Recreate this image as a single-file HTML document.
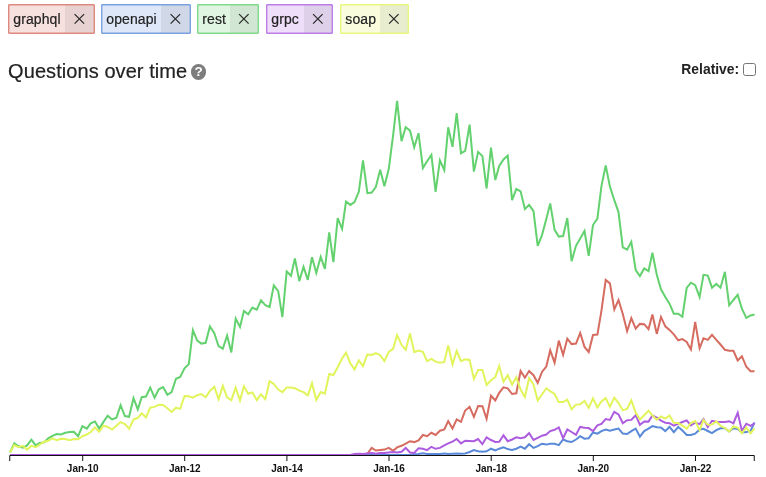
<!DOCTYPE html>
<html lang="en">
<head>
<meta charset="utf-8">
<title>Questions over time</title>
<style>
html,body{margin:0;padding:0;background:#fff;}
body{width:766px;height:477px;position:relative;overflow:hidden;font-family:"Liberation Sans",Arial,Helvetica,sans-serif;color:#222;}
.tag{position:absolute;top:4px;height:28px;border:1px solid;border-radius:1px;box-sizing:content-box;font-size:14px;line-height:28px;}
.tag .lbl{position:absolute;left:4.3px;top:0.3px;letter-spacing:0.1px;color:#222;white-space:nowrap;-webkit-text-stroke:0.2px #222;}
.tag .x{position:absolute;top:0;bottom:0;right:0;display:block;}
.tag .x svg{position:absolute;left:0;top:0;}
.tag::after{content:"";position:absolute;left:0;top:0;right:0;bottom:0;box-shadow:inset 0 0 0 0.4px currentColor;pointer-events:none;}
h2{position:absolute;left:8.1px;letter-spacing:0.07px;-webkit-text-stroke:0.2px #222;top:59px;margin:0;font-size:20px;font-weight:normal;line-height:24px;color:#222;white-space:nowrap;}
.help{position:absolute;left:191px;top:64.4px;width:15.4px;height:15.4px;border-radius:50%;background:#7d7d7d;color:#fff;font-size:13.5px;font-weight:bold;line-height:15.8px;text-align:center;}
.rel{position:absolute;left:681.3px;top:60.6px;font-size:13.9px;font-weight:bold;line-height:17px;color:#222;white-space:nowrap;}
.cb{-webkit-appearance:none;appearance:none;margin:0;padding:0;box-sizing:content-box;display:block;position:absolute;left:742.7px;top:62.6px;width:11.1px;height:11px;border:1px solid #767676;border-radius:2.5px;background:#fff;}
svg.chart{position:absolute;left:0;top:0;}
.ticks text{font-family:"Liberation Sans",Arial,Helvetica,sans-serif;font-size:10px;font-weight:bold;fill:#111;}
</style>
</head>
<body>
<div class="tag" style="left:8px;width:85px;border-color:#de897f;background:#f7e1df;color:#de897f"><span class="lbl">graphql</span><span class="x" style="left:56px;background:#e7d2d1"><svg width="29" height="28" viewBox="0 0 29 28"><path d="M9.60,9.10L19.10,18.60M19.10,9.10L9.60,18.60" stroke="#2b2b2b" stroke-width="1.3" fill="none"/></svg></span></div>
<div class="tag" style="left:101px;width:88px;border-color:#7aa1e0;background:#dee7f7;color:#7aa1e0"><span class="lbl">openapi</span><span class="x" style="left:59px;background:#d0d8e7"><svg width="29" height="28" viewBox="0 0 29 28"><path d="M9.60,9.10L19.10,18.60M19.10,9.10L9.60,18.60" stroke="#2b2b2b" stroke-width="1.3" fill="none"/></svg></span></div>
<div class="tag" style="left:197px;width:60px;border-color:#81da8b;background:#e0f6e2;color:#81da8b"><span class="lbl">rest</span><span class="x" style="left:32px;background:#d1e6d3"><svg width="28" height="28" viewBox="0 0 28 28"><path d="M9.10,9.10L18.60,18.60M18.60,9.10L9.10,18.60" stroke="#2b2b2b" stroke-width="1.3" fill="none"/></svg></span></div>
<div class="tag" style="left:266px;width:65px;border-color:#bd7de6;background:#efdef9;color:#bd7de6"><span class="lbl">grpc</span><span class="x" style="left:37px;background:#dfd0e9"><svg width="28" height="28" viewBox="0 0 28 28"><path d="M9.10,9.10L18.60,18.60M18.60,9.10L9.10,18.60" stroke="#2b2b2b" stroke-width="1.3" fill="none"/></svg></span></div>
<div class="tag" style="left:340px;width:67px;border-color:#e8f67d;background:#f9fdde;color:#e8f67d"><span class="lbl">soap</span><span class="x" style="left:39px;background:#e9edd0"><svg width="28" height="28" viewBox="0 0 28 28"><path d="M9.10,9.10L18.60,18.60M18.60,9.10L9.10,18.60" stroke="#2b2b2b" stroke-width="1.3" fill="none"/></svg></span></div>
<h2>Questions over time</h2>
<div class="help">?</div>
<label class="rel" for="rel">Relative:</label>
<input type="checkbox" id="rel" class="cb">
<svg class="chart" width="766" height="477" viewBox="0 0 766 477">
<g fill="none" stroke-width="2" stroke-linejoin="miter" stroke-linecap="butt">
<path stroke="#d66b5f" d="M10.0,455.0L14.3,455.0L18.5,455.0L22.9,455.0L27.1,455.0L31.4,455.0L35.7,455.0L39.6,455.0L44.0,455.0L48.2,455.0L52.5,455.0L56.7,455.0L61.0,455.0L65.4,455.0L69.6,455.0L73.9,455.0L78.1,455.0L82.4,455.0L86.8,455.0L90.7,455.0L95.0,455.0L99.2,455.0L103.5,455.0L107.7,455.0L112.1,455.0L116.4,455.0L120.6,455.0L124.9,455.0L129.1,455.0L133.5,455.0L137.8,455.0L141.7,455.0L146.0,455.0L150.2,455.0L154.6,455.0L158.8,455.0L163.1,455.0L167.4,455.0L171.6,455.0L176.0,455.0L180.2,455.0L184.5,455.0L188.8,455.0L192.9,455.0L197.2,455.0L201.4,455.0L205.7,455.0L209.9,455.0L214.3,455.0L218.6,455.0L222.8,455.0L227.1,455.0L231.3,455.0L235.7,455.0L240.0,455.0L243.9,455.0L248.2,455.0L252.4,455.0L256.8,455.0L261.0,455.0L265.3,455.0L269.6,455.0L273.8,455.0L278.2,455.0L282.4,455.0L286.7,455.0L291.0,455.0L294.9,455.0L299.3,455.0L303.5,455.0L307.8,455.0L312.0,455.0L316.3,455.0L320.7,455.0L324.9,455.0L329.2,455.0L333.4,455.0L337.7,455.0L342.1,455.0L346.0,455.0L350.3,455.0L354.5,455.0L358.8,455.0L363.0,454.0L367.4,453.8L371.7,447.9L375.9,450.5L380.2,450.0L384.4,449.6L388.8,447.9L393.1,450.8L397.1,447.4L401.5,445.8L405.7,443.7L410.0,441.2L414.2,442.1L418.5,440.4L422.9,435.0L427.1,436.2L431.4,432.8L435.6,435.0L439.9,430.7L444.3,429.5L448.2,421.1L452.5,428.6L456.7,419.4L461.0,421.9L465.2,410.5L469.6,406.8L473.9,416.9L478.1,406.0L482.4,406.3L486.6,418.8L491.0,395.7L495.3,400.4L499.2,392.8L503.5,387.3L507.7,388.3L512.1,394.0L516.3,393.3L520.6,371.0L524.9,377.7L529.1,371.0L533.5,375.2L537.7,382.8L542.0,371.9L546.3,366.5L550.2,350.3L554.6,362.6L558.8,340.6L563.1,354.9L567.3,338.7L571.6,344.1L576.0,343.5L580.2,332.9L584.5,346.9L588.7,352.0L593.0,334.9L597.4,334.6L601.4,311.1L605.7,280.0L609.9,283.4L614.3,309.4L618.5,300.0L622.8,313.9L627.1,331.2L631.3,318.1L635.7,328.7L639.9,323.9L644.2,324.2L648.5,329.2L652.4,314.5L656.8,333.9L661.0,316.9L665.3,326.3L669.5,329.9L673.8,334.4L678.2,340.3L682.4,339.1L686.7,341.9L690.9,349.5L695.2,321.8L699.6,348.3L703.5,338.2L707.8,339.9L712.0,334.9L716.3,339.8L720.5,344.5L724.9,349.8L729.2,350.8L733.4,350.8L737.7,360.4L741.9,356.2L746.3,366.8L750.6,371.3L754.5,371.3"/>
<path stroke="#5989d8" d="M10.0,455.0L14.3,455.0L18.5,455.0L22.9,455.0L27.1,455.0L31.4,455.0L35.7,455.0L39.6,455.0L44.0,455.0L48.2,455.0L52.5,455.0L56.7,455.0L61.0,455.0L65.4,455.0L69.6,455.0L73.9,455.0L78.1,455.0L82.4,455.0L86.8,455.0L90.7,455.0L95.0,455.0L99.2,455.0L103.5,455.0L107.7,455.0L112.1,455.0L116.4,455.0L120.6,455.0L124.9,455.0L129.1,455.0L133.5,455.0L137.8,455.0L141.7,455.0L146.0,455.0L150.2,455.0L154.6,455.0L158.8,455.0L163.1,455.0L167.4,455.0L171.6,455.0L176.0,455.0L180.2,455.0L184.5,455.0L188.8,455.0L192.9,455.0L197.2,455.0L201.4,455.0L205.7,455.0L209.9,455.0L214.3,455.0L218.6,455.0L222.8,455.0L227.1,455.0L231.3,455.0L235.7,455.0L240.0,455.0L243.9,455.0L248.2,455.0L252.4,455.0L256.8,455.0L261.0,455.0L265.3,455.0L269.6,455.0L273.8,455.0L278.2,455.0L282.4,455.0L286.7,455.0L291.0,455.0L294.9,455.0L299.3,455.0L303.5,455.0L307.8,455.0L312.0,455.0L316.3,455.0L320.7,455.0L324.9,455.0L329.2,455.0L333.4,455.0L337.7,455.0L342.1,455.0L346.0,455.0L350.3,455.0L354.5,455.0L358.8,455.0L363.0,455.0L367.4,455.0L371.7,455.0L375.9,455.0L380.2,455.0L384.4,455.0L388.8,455.0L393.1,455.0L397.1,455.0L401.5,455.0L405.7,455.0L410.0,455.0L414.2,454.2L418.5,454.0L422.9,453.3L427.1,454.0L431.4,454.0L435.6,454.0L439.9,453.9L444.3,453.5L448.2,454.0L452.5,453.8L456.7,453.6L461.0,453.8L465.2,453.5L469.6,452.0L473.9,450.1L478.1,451.3L482.4,451.8L486.6,451.3L491.0,448.7L495.3,450.4L499.2,448.7L503.5,447.4L507.7,449.1L512.1,449.9L516.3,448.7L520.6,446.7L524.9,448.7L529.1,444.2L533.5,447.9L537.7,446.2L542.0,443.7L546.3,444.6L550.2,443.7L554.6,443.7L558.8,445.1L563.1,439.5L567.3,441.2L571.6,442.0L576.0,439.5L580.2,436.2L584.5,438.7L588.7,438.2L593.0,432.5L597.4,433.6L601.4,431.1L605.7,429.5L609.9,430.6L614.3,429.5L618.5,428.6L622.8,433.6L627.1,434.0L631.3,431.1L635.7,428.6L639.9,436.7L644.2,431.1L648.5,428.6L652.4,426.1L656.8,427.3L661.0,427.4L665.3,431.1L669.5,426.8L673.8,432.2L678.2,427.0L682.4,430.6L686.7,434.9L690.9,434.9L695.2,433.7L699.6,429.5L703.5,428.8L707.8,431.0L712.0,433.1L716.3,430.2L720.5,428.3L724.9,428.3L729.2,431.5L733.4,428.3L737.7,429.0L741.9,432.5L746.3,432.1L750.6,430.9L754.5,422.4"/>
<path stroke="#62d16e" d="M10.0,452.5L14.3,443.2L18.5,446.3L22.9,447.6L27.1,445.4L31.4,439.6L35.7,445.4L39.6,442.9L44.0,442.4L48.2,438.4L52.5,435.9L56.7,434.0L61.0,434.5L65.4,432.8L69.6,432.0L73.9,431.7L78.1,436.2L82.4,426.1L86.8,428.6L90.7,423.3L95.0,421.6L99.2,428.6L103.5,421.9L107.7,415.7L112.1,419.4L116.4,417.7L120.6,405.2L124.9,416.0L129.1,416.8L133.5,398.2L137.8,409.4L141.7,397.2L146.0,396.5L150.2,387.6L154.6,397.7L158.8,389.3L163.1,387.1L167.4,394.8L171.6,392.1L176.0,378.7L180.2,377.0L184.5,368.3L188.8,364.1L192.9,330.2L197.2,340.6L201.4,343.6L205.7,342.8L209.9,326.5L214.3,333.2L218.6,346.2L222.8,348.7L227.1,335.6L231.3,352.4L235.7,318.5L240.0,326.9L243.9,310.9L248.2,314.3L252.4,307.5L256.8,309.7L261.0,300.4L265.3,305.2L269.6,307.0L273.8,285.3L278.2,291.2L282.4,317.2L286.7,271.5L291.0,275.7L294.9,258.5L299.3,281.1L303.5,266.8L307.8,279.9L312.0,257.3L316.3,273.0L320.7,256.8L324.9,268.9L329.2,232.4L333.4,262.1L337.7,218.1L342.1,229.0L346.0,201.5L350.3,204.9L354.5,202.2L358.8,191.8L363.0,160.4L367.4,193.2L371.7,192.6L375.9,186.8L380.2,169.8L384.4,186.3L388.8,168.8L393.1,135.3L397.1,100.9L401.5,141.1L405.7,127.2L410.0,130.6L414.2,147.3L418.5,133.2L422.9,168.0L427.1,161.3L431.4,154.9L435.6,191.8L439.9,160.3L444.3,170.1L448.2,127.3L452.5,146.9L456.7,113.2L461.0,153.3L465.2,150.8L469.6,124.6L473.9,171.6L478.1,151.9L482.4,156.1L486.6,188.5L491.0,147.7L495.3,180.1L499.2,165.9L503.5,159.5L507.7,155.6L512.1,200.2L516.3,189.0L520.6,191.3L524.9,209.1L529.1,204.9L533.5,211.1L537.7,245.8L542.0,235.1L546.3,219.0L550.2,203.4L554.6,229.9L558.8,236.6L563.1,236.0L567.3,218.1L571.6,261.1L576.0,245.8L580.2,238.6L584.5,231.0L588.7,255.8L593.0,225.0L597.4,218.6L601.4,186.4L605.7,165.4L609.9,186.4L614.3,200.2L618.5,212.1L622.8,247.4L627.1,249.7L631.3,241.8L635.7,270.0L639.9,276.1L644.2,268.5L648.5,271.2L652.4,252.8L656.8,274.8L661.0,289.3L665.3,297.0L669.5,303.7L673.8,313.7L678.2,313.7L682.4,316.7L686.7,288.0L690.9,282.7L695.2,285.2L699.6,296.9L703.5,274.8L707.8,275.6L712.0,287.7L716.3,283.9L720.5,287.7L724.9,271.8L729.2,305.3L733.4,300.0L737.7,294.9L741.9,308.7L746.3,317.9L750.6,315.4L754.5,314.6"/>
<path stroke="#ad5ce0" d="M10.0,455.0L14.3,455.0L18.5,455.0L22.9,455.0L27.1,455.0L31.4,455.0L35.7,455.0L39.6,455.0L44.0,455.0L48.2,455.0L52.5,455.0L56.7,455.0L61.0,455.0L65.4,455.0L69.6,455.0L73.9,455.0L78.1,455.0L82.4,455.0L86.8,455.0L90.7,455.0L95.0,455.0L99.2,455.0L103.5,455.0L107.7,455.0L112.1,455.0L116.4,455.0L120.6,455.0L124.9,455.0L129.1,455.0L133.5,455.0L137.8,455.0L141.7,455.0L146.0,455.0L150.2,455.0L154.6,455.0L158.8,455.0L163.1,455.0L167.4,455.0L171.6,455.0L176.0,455.0L180.2,455.0L184.5,455.0L188.8,455.0L192.9,455.0L197.2,455.0L201.4,455.0L205.7,455.0L209.9,455.0L214.3,455.0L218.6,455.0L222.8,455.0L227.1,455.0L231.3,455.0L235.7,455.0L240.0,455.0L243.9,455.0L248.2,455.0L252.4,455.0L256.8,455.0L261.0,455.0L265.3,455.0L269.6,455.0L273.8,455.0L278.2,455.0L282.4,455.0L286.7,455.0L291.0,455.0L294.9,455.0L299.3,455.0L303.5,455.0L307.8,455.0L312.0,455.0L316.3,455.0L320.7,455.0L324.9,455.0L329.2,455.0L333.4,455.0L337.7,455.0L342.1,455.0L346.0,455.0L350.3,455.0L354.5,454.1L358.8,453.8L363.0,454.1L367.4,453.5L371.7,453.0L375.9,453.8L380.2,453.0L384.4,453.0L388.8,452.5L393.1,452.1L397.1,452.5L401.5,451.8L405.7,447.9L410.0,452.5L414.2,453.0L418.5,448.3L422.9,448.8L427.1,450.1L431.4,446.8L435.6,448.8L439.9,447.9L444.3,445.4L448.2,443.4L452.5,441.7L456.7,439.0L461.0,443.4L465.2,440.7L469.6,441.0L473.9,441.2L478.1,439.0L482.4,444.1L486.6,437.3L491.0,440.0L495.3,442.0L499.2,441.7L503.5,435.3L507.7,441.2L512.1,439.5L516.3,437.3L520.6,438.3L524.9,437.3L529.1,433.1L533.5,440.0L537.7,437.8L542.0,435.7L546.3,434.5L550.2,431.1L554.6,429.8L558.8,427.4L563.1,438.3L567.3,429.5L571.6,432.0L576.0,434.8L580.2,426.9L584.5,427.8L588.7,428.1L593.0,431.1L597.4,425.4L601.4,423.9L605.7,419.1L609.9,419.9L614.3,411.8L618.5,414.4L622.8,423.2L627.1,420.2L631.3,419.9L635.7,415.2L639.9,424.8L644.2,421.4L648.5,421.6L652.4,415.5L656.8,417.7L661.0,420.6L665.3,422.7L669.5,423.2L673.8,425.7L678.2,423.9L682.4,422.0L686.7,420.4L690.9,425.5L695.2,422.5L699.6,424.1L703.5,419.0L707.8,427.0L712.0,420.8L716.3,421.8L720.5,422.1L724.9,422.1L729.2,421.2L733.4,423.3L737.7,412.8L741.9,430.9L746.3,423.7L750.6,425.8L754.5,423.3"/>
<path stroke="#e2f45c" d="M10.0,452.5L14.3,445.1L18.5,447.1L22.9,445.8L27.1,449.6L31.4,445.9L35.7,447.1L39.6,444.6L44.0,441.7L48.2,440.7L52.5,438.4L56.7,440.1L61.0,438.7L65.4,439.0L69.6,440.1L73.9,439.0L78.1,439.2L82.4,436.2L86.8,434.5L90.7,432.0L95.0,427.5L99.2,431.7L103.5,425.6L107.7,427.0L112.1,429.5L116.4,425.8L120.6,422.1L124.9,424.0L129.1,428.7L133.5,419.5L137.8,417.8L141.7,413.3L146.0,417.5L150.2,407.7L154.6,406.9L158.8,404.7L163.1,404.9L167.4,408.2L171.6,411.9L176.0,407.7L180.2,408.9L184.5,396.0L188.8,396.3L192.9,397.7L197.2,395.2L201.4,394.0L205.7,397.2L209.9,391.0L214.3,386.8L218.6,399.4L222.8,385.9L227.1,397.3L231.3,400.2L235.7,387.6L240.0,400.6L243.9,386.3L248.2,393.7L252.4,392.4L256.8,400.1L261.0,394.3L265.3,399.1L269.6,381.2L273.8,384.0L278.2,389.6L282.4,392.1L286.7,387.4L291.0,387.4L294.9,388.2L299.3,390.7L303.5,392.1L307.8,395.4L312.0,383.3L316.3,400.1L320.7,392.1L324.9,393.7L329.2,374.0L333.4,375.0L337.7,367.2L342.1,358.5L346.0,352.6L350.3,363.2L354.5,369.4L358.8,360.4L363.0,366.1L367.4,354.4L371.7,354.9L375.9,353.2L380.2,355.2L384.4,361.1L388.8,351.9L393.1,348.9L397.1,335.1L401.5,344.8L405.7,349.9L410.0,333.4L414.2,352.2L418.5,350.5L422.9,351.9L427.1,361.1L431.4,358.9L435.6,361.6L439.9,362.8L444.3,361.9L448.2,345.5L452.5,364.5L456.7,351.0L461.0,361.1L465.2,359.4L469.6,360.0L473.9,379.0L478.1,370.1L482.4,370.0L486.6,385.0L491.0,380.3L495.3,377.2L499.2,366.0L503.5,381.9L507.7,375.2L512.1,384.5L516.3,377.2L520.6,389.5L524.9,397.0L529.1,378.2L533.5,384.5L537.7,400.4L542.0,394.5L546.3,388.3L550.2,391.2L554.6,394.0L558.8,402.1L563.1,402.1L567.3,399.6L571.6,409.3L576.0,404.6L580.2,404.3L584.5,401.0L588.7,407.8L593.0,398.4L597.4,407.5L601.4,401.4L605.7,398.1L609.9,406.8L614.3,397.6L618.5,403.1L622.8,410.2L627.1,409.0L631.3,400.4L635.7,412.7L639.9,419.4L644.2,415.2L648.5,410.7L652.4,415.5L656.8,419.7L661.0,416.5L665.3,418.6L669.5,415.5L673.8,422.8L678.2,423.1L682.4,425.7L686.7,428.6L690.9,423.0L695.2,421.0L699.6,430.3L703.5,420.0L707.8,424.8L712.0,424.6L716.3,421.4L720.5,425.8L724.9,428.0L729.2,431.5L733.4,426.5L737.7,427.7L741.9,433.4L746.3,427.5L750.6,433.4L754.5,428.3"/>
</g>
<g fill="none" stroke="#111" stroke-width="1">
<path d="M9.75,461V455.5H754.25V461"/>
<path d="M82.7,455.5V461"/>
<path d="M184.7,455.5V461"/>
<path d="M286.9,455.5V461"/>
<path d="M389.0,455.5V461"/>
<path d="M491.2,455.5V461"/>
<path d="M593.3,455.5V461"/>
<path d="M695.5,455.5V461"/>
</g>
<g class="ticks" text-anchor="middle">
<text x="82.7" y="471.8">Jan-10</text>
<text x="184.8" y="471.8">Jan-12</text>
<text x="287.0" y="471.8">Jan-14</text>
<text x="389.1" y="471.8">Jan-16</text>
<text x="491.3" y="471.8">Jan-18</text>
<text x="593.3" y="471.8">Jan-20</text>
<text x="695.5" y="471.8">Jan-22</text>
</g>
</svg>
</body>
</html>
